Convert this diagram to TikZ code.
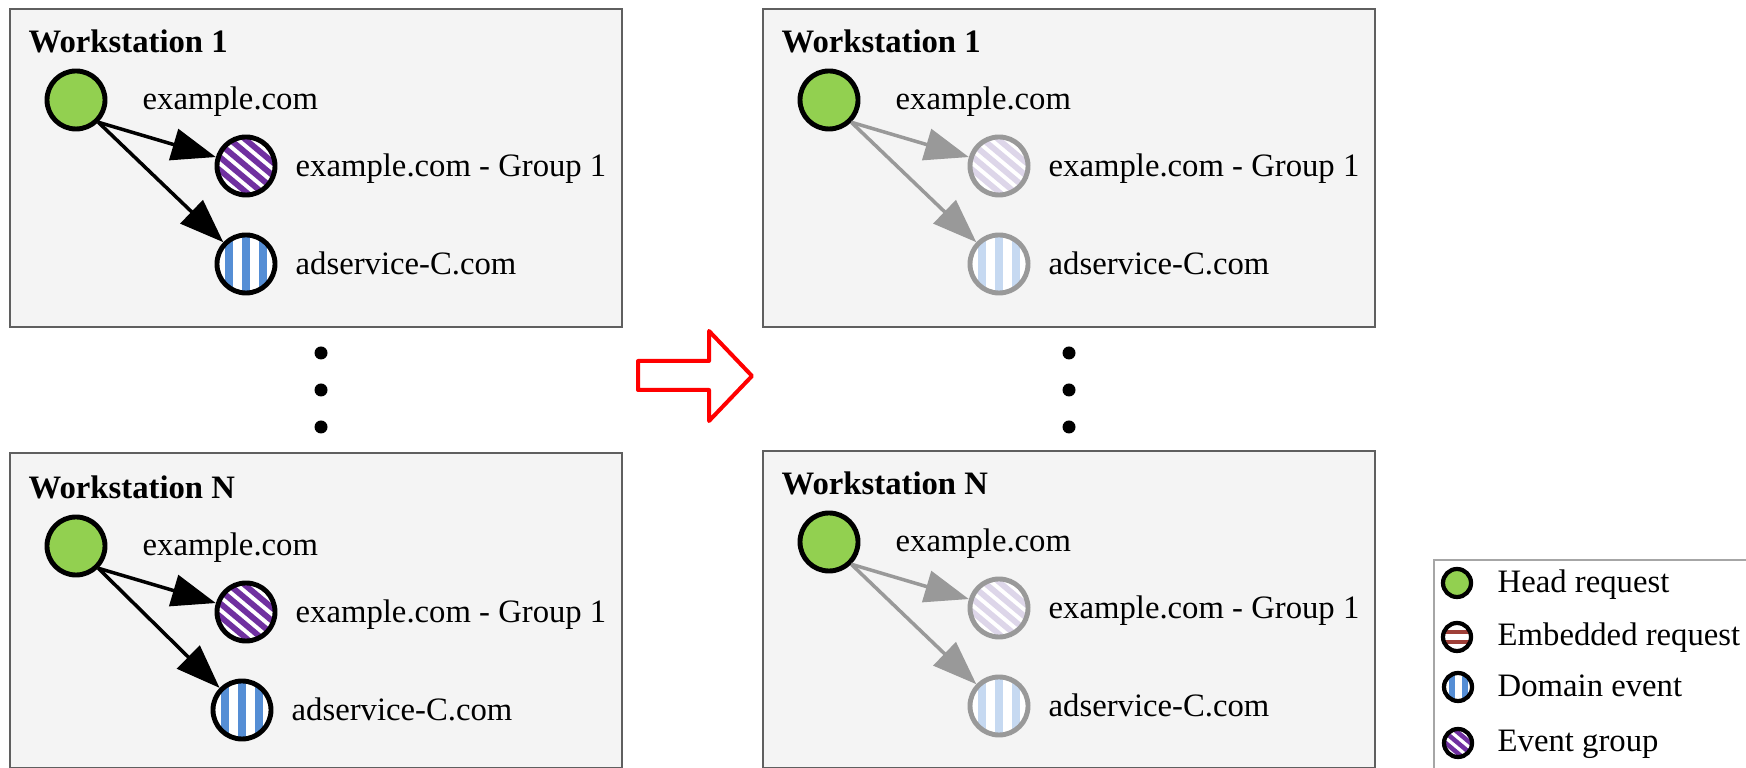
\documentclass[tikz,border=0pt]{standalone}
\usepackage{fontspec}
\setmainfont{Liberation Serif}
\usetikzlibrary{arrows.meta,positioning}

\definecolor{panelgray}{HTML}{F4F4F4}
\definecolor{boxgray}{HTML}{5F5F5F}
\definecolor{legendgray}{HTML}{A6A6A6}
\definecolor{headgreen}{HTML}{92D050}
\definecolor{grouppurple}{HTML}{7030A0}
\definecolor{domainblue}{HTML}{558ED5}
\definecolor{embedbrown}{HTML}{9E3F38}
\definecolor{fadegray}{HTML}{999999}
\definecolor{fadepurple}{HTML}{DDD6E9}
\definecolor{fadeblue}{HTML}{C6D9F1}

% striped fills for the event markers
\tikzset{
  vstripes/.style n args={3}{fill=white,path picture={
    \foreach \d in {#3}
      \fill[#1] ([xshift={(\d-#2/2)*1cm}]path picture bounding box.south)
        rectangle ([xshift={(\d+#2/2)*1cm}]path picture bounding box.north);}},
  hstripes/.style n args={3}{fill=white,path picture={
    \foreach \d in {#3}
      \fill[#1] ([yshift={(\d-#2/2)*1cm}]path picture bounding box.west)
        rectangle ([yshift={(\d+#2/2)*1cm}]path picture bounding box.east);}},
  % slanted bands running down to the right at 40 degrees
  dstripes/.style n args={3}{fill=white,path picture={
    \foreach \k in {-5,...,5}
      \draw[#1,line width={#3*1cm}]
        ([shift={({(\k*#2*sin(40)-0.5*cos(40))*1cm},{(\k*#2*cos(40)+0.5*sin(40))*1cm})}]path picture bounding box.center)
        -- ([shift={({(\k*#2*sin(40)+0.5*cos(40))*1cm},{(\k*#2*cos(40)-0.5*sin(40))*1cm})}]path picture bounding box.center);}}
}

\begin{document}
\begin{tikzpicture}[x=0.01cm,y=-0.01cm,
  font=\fontsize{9.3}{11}\selectfont,
  panel/.style={draw=boxgray,line width=0.6pt,fill=panelgray,anchor=north west,
    minimum width=6.12cm,inner sep=0pt},
  ring/.style={circle,draw,line width=1.4pt,inner sep=0pt,minimum size=0.58cm},
  lring/.style={ring,line width=1.2pt,minimum size=0.28cm},
  faded/.style={draw=fadegray},
  head/.style={ring,fill=headgreen},
  domain/.style={ring,vstripes={#1}{0.08}{-0.17,0,0.17}},
  group/.style={ring,dstripes={#1}{0.1}{0.058}},
  lbl/.style={anchor=base west,inner sep=0pt},
  title/.style={lbl,font=\fontsize{9.3}{11}\selectfont\bfseries},
  link/.style={-{Triangle[length=0.44cm,width=0.32cm]},line width=1pt},
  fadelink/.style={link,draw=fadegray,fill=fadegray}
]
\useasboundingbox (0,0) rectangle (1746,768);

% panels before filtering
\node[panel,minimum height=3.18cm] (w1l) at (9,8) {};
\node[title] (t1l) at (28,53) {Workstation 1};
\node[head] (h1l) at (76,100) {};
\node[lbl] (h1ltxt) at (142,110) {example.com};
\node[group=grouppurple] (g1l) at (246,166) {};
\node[lbl] (g1ltxt) at (295,177) {example.com - Group 1};
\node[domain=domainblue] (d1l) at (246,264) {};
\node[lbl] (d1ltxt) at (295,275) {adservice-C.com};
\draw[link] (h1l.-45) -- (g1l);
\draw[link] (h1l.-45) -- (d1l);

\node[panel,minimum height=3.15cm] (wnl) at (9,452) {};
\node[title] (tnl) at (28,499) {Workstation N};
\node[head] (hnl) at (76,546) {};
\node[lbl] (hnltxt) at (142,556) {example.com};
\node[group=grouppurple] (gnl) at (246,612) {};
\node[lbl] (gnltxt) at (295,623) {example.com - Group 1};
\node[domain=domainblue] (dnl) at (242,710) {};
\node[lbl] (dnltxt) at (291,721) {adservice-C.com};
\draw[link] (hnl.-45) -- (gnl);
\draw[link] (hnl.-45) -- (dnl);

\fill (321,353) circle[radius=0.065cm];
\fill (321,390) circle[radius=0.065cm];
\fill (321,427) circle[radius=0.065cm];

% hollow red arrow
\draw[red,line width=1.14pt,fill=white,line join=round]
  (638,361) -- (709,361) -- (709,331) -- (752,376) -- (709,421) -- (709,390) -- (638,390) -- cycle;

% panels after filtering
\node[panel,minimum height=3.18cm] (w1r) at (762,8) {};
\node[title] (t1r) at (781,53) {Workstation 1};
\node[head] (h1r) at (829,100) {};
\node[lbl] (h1rtxt) at (895,110) {example.com};
\node[group=fadepurple,faded] (g1r) at (999,166) {};
\node[lbl] (g1rtxt) at (1048,177) {example.com - Group 1};
\node[domain=fadeblue,faded] (d1r) at (999,264) {};
\node[lbl] (d1rtxt) at (1048,275) {adservice-C.com};
\draw[fadelink] (h1r.-45) -- (g1r);
\draw[fadelink] (h1r.-45) -- (d1r);

\node[panel,minimum height=3.17cm] (wnr) at (762,450) {};
\node[title] (tnr) at (781,495) {Workstation N};
\node[head] (hnr) at (829,542) {};
\node[lbl] (hnrtxt) at (895,552) {example.com};
\node[group=fadepurple,faded] (gnr) at (999,608) {};
\node[lbl] (gnrtxt) at (1048,619) {example.com - Group 1};
\node[domain=fadeblue,faded] (dnr) at (999,706) {};
\node[lbl] (dnrtxt) at (1048,717) {adservice-C.com};
\draw[fadelink] (hnr.-45) -- (gnr);
\draw[fadelink] (hnr.-45) -- (dnr);

\fill (1069,353) circle[radius=0.065cm];
\fill (1069,390) circle[radius=0.065cm];
\fill (1069,427) circle[radius=0.065cm];

% legend
\node[draw=legendgray,line width=0.6pt,anchor=north west,minimum width=3.4cm,
  minimum height=2.3cm,inner sep=0pt] (legend) at (1433,559) {};
\node[lring,fill=headgreen] (khead) at (1457,583) {};
\node[lbl] (kheadtxt) at (1497,593) {Head request};
\node[lring,hstripes={embedbrown}{0.04}{-0.05,0.05}] (kembed) at (1457,637) {};
\node[lbl] (kembedtxt) at (1497,646) {Embedded request};
\node[lring,vstripes={domainblue}{0.06}{-0.065,0.065}] (kdomain) at (1458,687) {};
\node[lbl] (kdomaintxt) at (1497,697) {Domain event};
\node[lring,dstripes={grouppurple}{0.08}{0.045}] (kgroup) at (1458,743) {};
\node[lbl] (kgrouptxt) at (1497,752) {Event group};
\end{tikzpicture}
\end{document}
